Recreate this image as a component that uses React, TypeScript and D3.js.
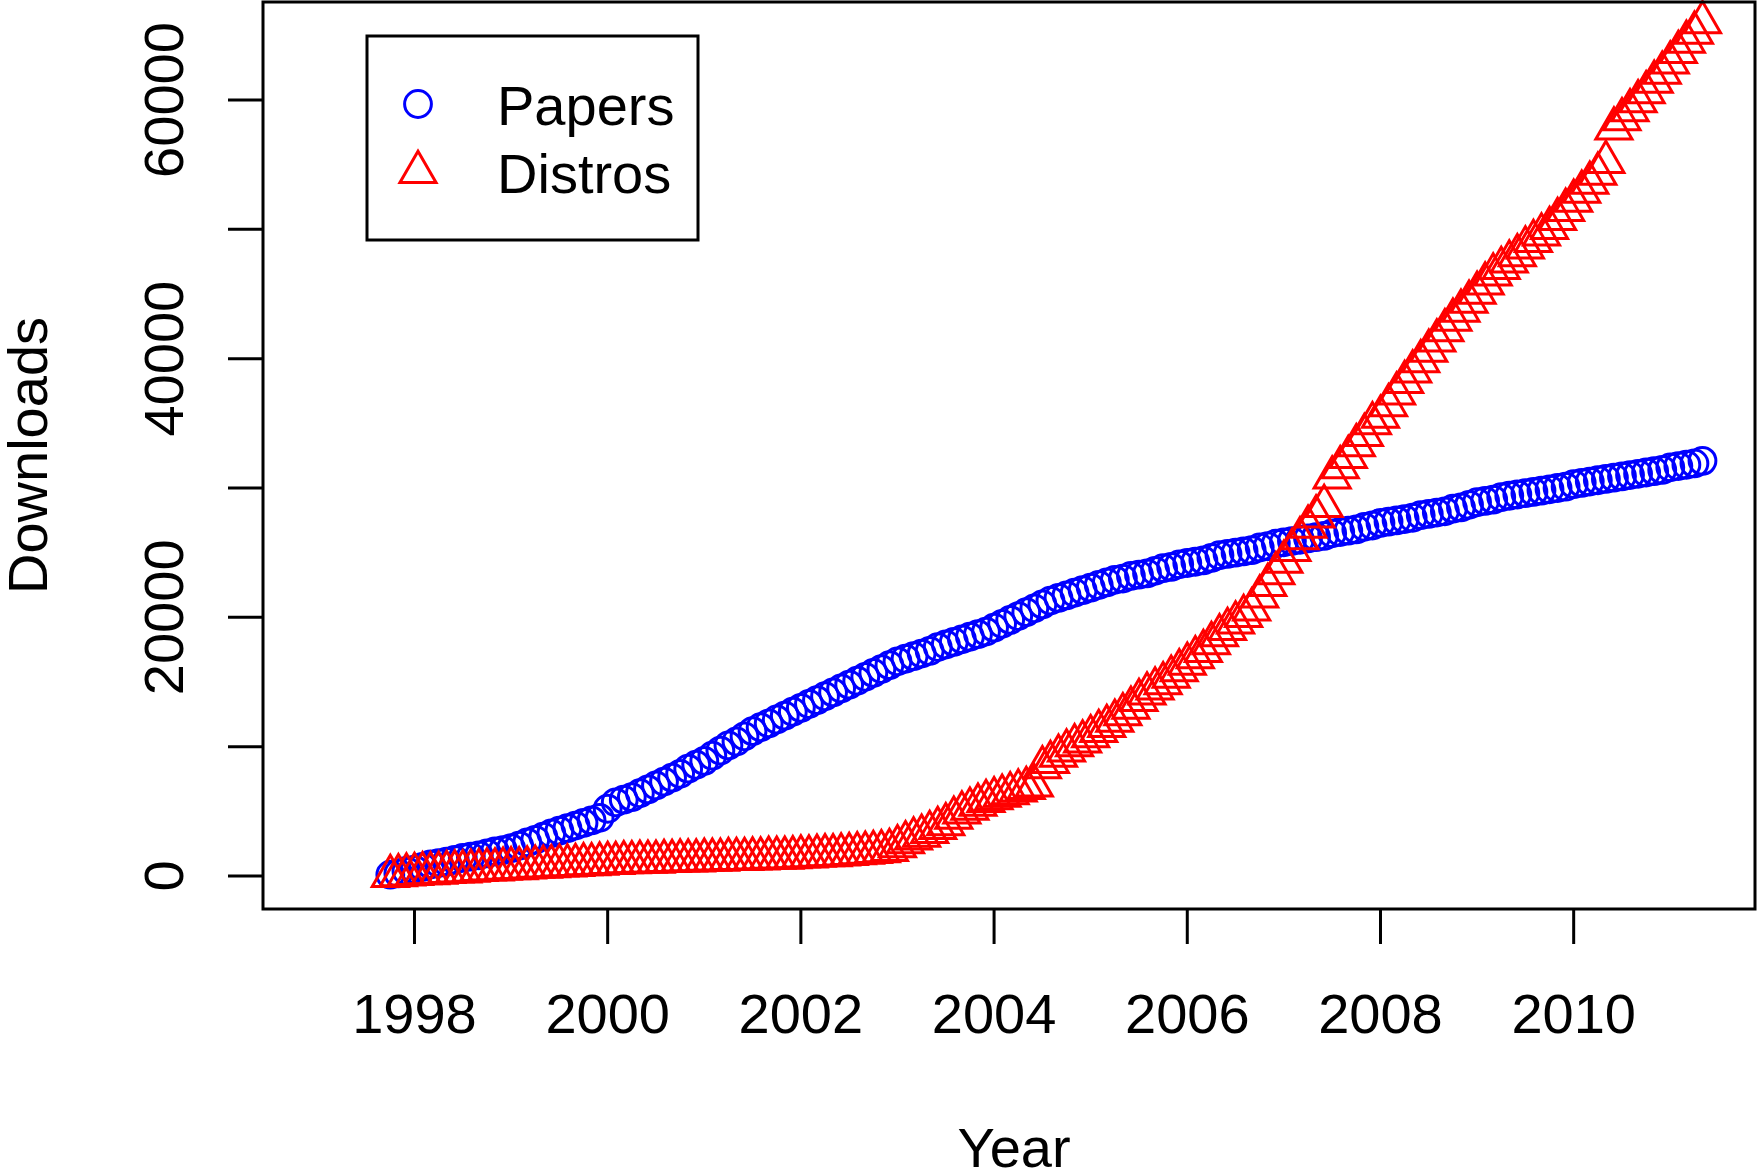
import React, { useEffect, useRef } from 'react';
import * as d3 from 'd3';

// Monthly cumulative downloads, Oct 1997 .. May 2011
const START_YEAR = 1997;
const START_MONTH = 10;

const papers = [
  100, 200, 400,
  500, 700, 900, 1000, 1100, 1250, 1400, 1500, 1600, 1750, 1900, 2000,
  2150, 2350, 2600, 2800, 3050, 3300, 3500, 3700, 3900, 4100, 4300, 4500,
  5200, 5700, 5900, 6100, 6400, 6700, 7000, 7300, 7600, 7900, 8300, 8600,
  8900, 9300, 9700, 10100, 10400, 10800, 11200, 11500, 11800, 12100, 12400, 12700,
  13000, 13300, 13600, 13900, 14200, 14500, 14800, 15100, 15400, 15700, 16000, 16300,
  16600, 16800, 17000, 17200, 17400, 17700, 17900, 18100, 18300, 18500, 18700, 18900,
  19200, 19500, 19800, 20100, 20400, 20700, 21000, 21300, 21500, 21700, 21900, 22100,
  22300, 22500, 22700, 22900, 23000, 23200, 23300, 23400, 23600, 23800, 23900, 24100,
  24200, 24300, 24400, 24600, 24800, 24900, 25000, 25100, 25200, 25400, 25500, 25700,
  25800, 25900, 26000, 26100, 26200, 26300, 26500, 26600, 26700, 26800, 27000, 27100,
  27300, 27400, 27500, 27600, 27700, 27900, 28000, 28100, 28200, 28400, 28500, 28700,
  28900, 29000, 29100, 29300, 29400, 29500, 29600, 29700, 29800, 29900, 30000, 30100,
  30300, 30400, 30500, 30600, 30700, 30800, 30900, 31000, 31100, 31200, 31300, 31400,
  31600, 31700, 31800, 31900, 32100,
];

const distros = [
  0, 50, 100,
  150, 200, 200, 250, 300, 350, 350, 400, 450, 500, 500, 550,
  600, 600, 650, 700, 700, 750, 800, 800, 850, 900, 900, 950,
  1000, 1000, 1050, 1050, 1100, 1100, 1100, 1150, 1150, 1200, 1200, 1200,
  1250, 1250, 1250, 1300, 1300, 1300, 1350, 1350, 1400, 1400, 1400, 1450,
  1500, 1500, 1550, 1600, 1600, 1650, 1700, 1750, 1800, 1850, 1900, 2000,
  2300, 2600, 2900, 3100, 3400, 3700, 4000, 4500, 4900, 5200, 5500, 5800,
  6000, 6200, 6400, 6600, 6800, 7000, 8400, 8800, 9300, 9700, 10100, 10400,
  10800, 11200, 11600, 12000, 12500, 13000, 13600, 14100, 14500, 14900, 15400, 15900,
  16400, 16900, 17400, 18000, 18600, 19100, 19600, 20100, 20600, 21600, 22500, 23400,
  24300, 25200, 26100, 27000, 27800, 28600, 30800, 31600, 32400, 33300, 34100, 35000,
  35500, 36400, 37300, 38200, 39000, 39800, 40600, 41400, 42200, 43000, 43700, 44400,
  45100, 45800, 46500, 47000, 47500, 48000, 48600, 49100, 49600, 50100, 50800, 51500,
  52200, 52900, 53600, 54300, 55200, 57800, 58500, 59200, 59900, 60600, 61400, 62100,
  62900, 63700, 64500, 65200, 66000,
];

const xTicks = [1998, 2000, 2002, 2004, 2006, 2008, 2010];
const yTicks = [0, 10000, 20000, 30000, 40000, 50000, 60000];
const yLabels = [0, 20000, 40000, 60000];

const legendItems = [
  { name: 'Papers', color: '#0000FF', shape: 'circle' },
  { name: 'Distros', color: '#FF0000', shape: 'triangle' },
];

const FONT = '"Liberation Sans", Arial, Helvetica, sans-serif';
const R = 13.4;

const trianglePath = (cx: number, cy: number) => {
  const r = 1.5551 * R;
  const xc = 1.3468 * R;
  const yc = 0.7776 * R;
  return `M${cx},${cy - r}L${cx + xc},${cy + yc}L${cx - xc},${cy + yc}Z`;
};

export default function App() {
  const svgRef = useRef<SVGSVGElement>(null);

  useEffect(() => {
    const width = 1758;
    const height = 1173;
    const box = { left: 263, right: 1755, top: 2, bottom: 909 };

    const svg = d3.select(svgRef.current);
    svg.selectAll('*').remove();
    svg.attr('width', width).attr('height', height);

    svg.append('rect').attr('width', width).attr('height', height).attr('fill', '#fff');

    const x = d3.scaleLinear().domain([1996.432, 2011.877]).range([box.left, box.right]);
    const y = d3.scaleLinear().domain([-2552, 67580]).range([box.bottom, box.top]);

    const timeOf = (i: number) => START_YEAR + (START_MONTH - 1 + i) / 12;

    // papers: open circles
    svg.append('g')
      .selectAll('circle')
      .data(papers)
      .enter()
      .append('circle')
      .attr('cx', (d, i) => x(timeOf(i)))
      .attr('cy', d => y(d))
      .attr('r', R)
      .attr('fill', 'none')
      .attr('stroke', '#0000FF')
      .attr('stroke-width', 3);

    // distros: open triangles
    svg.append('g')
      .selectAll('path')
      .data(distros)
      .enter()
      .append('path')
      .attr('d', (d, i) => trianglePath(x(timeOf(i)), y(d)))
      .attr('fill', 'none')
      .attr('stroke', '#FF0000')
      .attr('stroke-width', 3)
      .attr('stroke-linejoin', 'miter');

    // plot box
    svg.append('rect')
      .attr('x', box.left)
      .attr('y', box.top)
      .attr('width', box.right - box.left)
      .attr('height', box.bottom - box.top)
      .attr('fill', 'none')
      .attr('stroke', '#000')
      .attr('stroke-width', 3);

    // x axis
    const xAxis = svg.append('g');
    xTicks.forEach(t => {
      xAxis.append('line')
        .attr('x1', x(t)).attr('x2', x(t))
        .attr('y1', box.bottom).attr('y2', box.bottom + 35)
        .attr('stroke', '#000').attr('stroke-width', 3);
      xAxis.append('text')
        .attr('x', x(t))
        .attr('y', 1033)
        .attr('text-anchor', 'middle')
        .style('font-family', FONT)
        .style('font-size', '56px')
        .text(t);
    });

    // y axis
    const yAxis = svg.append('g');
    yTicks.forEach(t => {
      yAxis.append('line')
        .attr('x1', box.left - 35).attr('x2', box.left)
        .attr('y1', y(t)).attr('y2', y(t))
        .attr('stroke', '#000').attr('stroke-width', 3);
    });
    yLabels.forEach(t => {
      yAxis.append('text')
        .attr('transform', `translate(183,${y(t)}) rotate(-90)`)
        .attr('text-anchor', 'middle')
        .style('font-family', FONT)
        .style('font-size', '56px')
        .text(t);
    });

    // axis titles
    svg.append('text')
      .attr('x', 1014)
      .attr('y', 1167)
      .attr('text-anchor', 'middle')
      .style('font-family', FONT)
      .style('font-size', '56px')
      .text('Year');

    svg.append('text')
      .attr('transform', `translate(47,${(box.top + box.bottom) / 2}) rotate(-90)`)
      .attr('text-anchor', 'middle')
      .style('font-family', FONT)
      .style('font-size', '56px')
      .text('Downloads');

    // legend
    const legend = svg.append('g');
    legend.append('rect')
      .attr('x', 367).attr('y', 36)
      .attr('width', 331).attr('height', 204)
      .attr('fill', '#fff')
      .attr('stroke', '#000')
      .attr('stroke-width', 3);

    const rowY = [104, 172];
    legendItems.forEach((item, i) => {
      if (item.shape === 'circle') {
        legend.append('circle')
          .attr('cx', 418).attr('cy', rowY[i]).attr('r', R)
          .attr('fill', 'none').attr('stroke', item.color).attr('stroke-width', 3);
      } else {
        legend.append('path')
          .attr('d', trianglePath(418, rowY[i]))
          .attr('fill', 'none').attr('stroke', item.color).attr('stroke-width', 3);
      }
      legend.append('text')
        .attr('x', 497)
        .attr('y', rowY[i] + 21)
        .style('font-family', FONT)
        .style('font-size', '56px')
        .text(item.name);
    });
  }, []);

  return (
    <div style={{ position: 'absolute', left: 0, top: 0 }}>
      <svg ref={svgRef} style={{ display: 'block' }} />
    </div>
  );
}
